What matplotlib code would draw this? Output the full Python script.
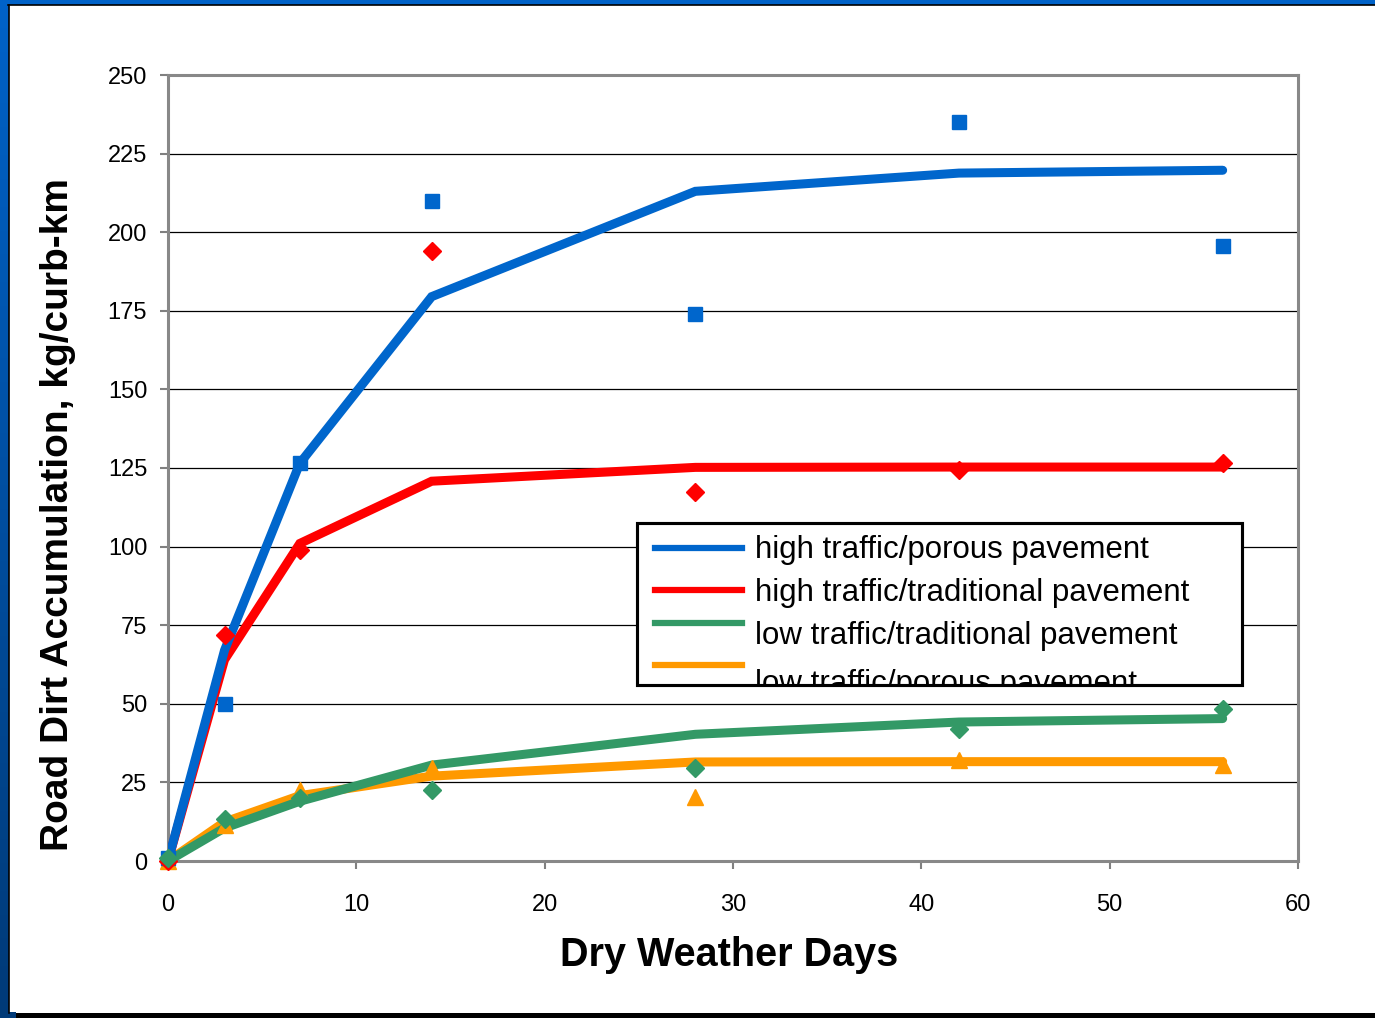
import numpy as np
import matplotlib
matplotlib.use("Agg")
import matplotlib.pyplot as plt
from matplotlib.patches import Rectangle
from matplotlib.lines import Line2D
from matplotlib.colors import LinearSegmentedColormap

plt.rcParams['font.family'] = ['Liberation Sans', 'DejaVu Sans']

# ---- data ----
days = [0, 3, 7, 14, 28, 42, 56]

series_names = ["high traffic/porous pavement",
                "high traffic/traditional pavement",
                "low traffic/traditional pavement",
                "low traffic/porous pavement"]

# observed points
hp_obs = [1, 50, 126.5, 210, 174, 235, 195.5]
ht_obs = [0, 72, 99, 194, 117.5, 124.5, 126.5]
lt_obs = [1, 13.5, 20, 22.5, 29.5, 42, 48.5]
lp_obs = [0, 11.5, 22.5, 29.5, 20.5, 32, 30.5]

# fitted curves
hp_fit = [0, 67, 126.5, 179.5, 213, 218.8, 219.7]
ht_fit = [0, 64, 101, 120.8, 125.2, 125.3, 125.3]
lt_fit = [0, 10.5, 19, 30.5, 40.3, 44.2, 45.3]
lp_fit = [0, 12.4, 20.8, 27, 31.5, 31.6, 31.6]

x_ticks = [0, 10, 20, 30, 40, 50, 60]
y_ticks = [0, 25, 50, 75, 100, 125, 150, 175, 200, 225, 250]

c_blue = "#0066CC"
c_red = "#FF0000"
c_green = "#339966"
c_orange = "#FF9900"

W, H = 1375, 1018
fig = plt.figure(figsize=(W / 100, H / 100), dpi=100)
fig.patch.set_facecolor("white")

# ---- frame decoration ----
frame = fig.add_axes([0, 0, 1, 1], zorder=-10)
frame.set_xlim(0, W)
frame.set_ylim(H, 0)
frame.axis("off")
grad = np.linspace(0, 1, 256).reshape(-1, 1)
cmap = LinearSegmentedColormap.from_list("bl", ["#0062C8", "#003A78"])
frame.imshow(grad, cmap=cmap, extent=[0, 8.5, H, 0], aspect="auto")
frame.add_patch(Rectangle((0, 0), W, 4.5, color="#0062C8", lw=0))
frame.plot([8.5, W], [5.2, 5.2], color="black", lw=1.2)
frame.plot([9.2, 9.2], [5, 1013], color="black", lw=1.2)
frame.add_patch(Rectangle((9, 1013), W, 6, color="black", lw=0))
frame.add_patch(Rectangle((0, 1012), 16, 7, color="#003A78", lw=0))

# ---- main axes ----
ax = fig.add_axes([168 / W, 1 - 861 / H, (1298 - 168) / W, (861 - 75) / H])
ax.set_xlim(0, 60)
ax.set_ylim(0, 250)
ax.set_xticks(x_ticks)
ax.set_yticks(y_ticks)
ax.tick_params(axis="x", direction="out", length=6, width=1.5, color="#808080",
               labelsize=17, pad=18)
ax.tick_params(axis="y", direction="out", length=6, width=1.5, color="#808080",
               labelsize=17, pad=9)
for s in ax.spines.values():
    s.set_color("#888888")
    s.set_linewidth(2.2)
ax.yaxis.grid(True, color="black", lw=0.9)
ax.set_axisbelow(True)

fits = [(lp_fit, c_orange), (lt_fit, c_green), (ht_fit, c_red), (hp_fit, c_blue)]
for vals, col in fits:
    ax.plot(days, vals, color=col, lw=6.5, solid_capstyle="round",
            solid_joinstyle="miter", zorder=3)

ax.plot(days, hp_obs, ls="none", marker="s", ms=9.5, color=c_blue, zorder=5, clip_on=False)
ax.plot(days, ht_obs, ls="none", marker="D", ms=9, color=c_red, zorder=5, clip_on=False)
ax.plot(days, lt_obs, ls="none", marker="D", ms=9, color=c_green, zorder=5, clip_on=False)
ax.plot(days, lp_obs, ls="none", marker="^", ms=11, color=c_orange, zorder=4, clip_on=False)

ax.set_xlabel("Dry Weather Days", fontsize=28.5, fontweight="bold")
ax.xaxis.set_label_coords((729 - 168) / 1130, (861 - 955) / 786)
ax.xaxis.label.set_va("center")
ax.set_ylabel("Road Dirt Accumulation, kg/curb-km", fontsize=28, fontweight="bold")
ax.yaxis.set_label_coords((58 - 168) / 1130, (861 - 515) / 786)
ax.yaxis.label.set_va("center")

# ---- manual legend (last entry clipped like the original) ----
lx0, ly0 = (637 - 168) / 1130, (861 - 685) / 786
lw_, lh_ = (1242 - 637) / 1130, (685 - 523) / 786
box = Rectangle((lx0, ly0), lw_, lh_, transform=ax.transAxes, facecolor="white",
                edgecolor="black", lw=2.2, zorder=10)
ax.add_patch(box)
clipbox = Rectangle((lx0, ly0), lw_, lh_, transform=ax.transAxes, facecolor="none",
                    edgecolor="none")
line_y = [548, 590, 623, 665]
text_y = [550, 593, 636, 684]
cols = [c_blue, c_red, c_green, c_orange]
for name, col, yl, yt in zip(series_names, cols, line_y, text_y):
    l = Line2D([(655 - 168) / 1130, (742 - 168) / 1130],
               [(861 - yl) / 786] * 2, transform=ax.transAxes, color=col,
               lw=4.5, zorder=11)
    ax.add_line(l)
    l.set_clip_on(True)
    l.set_clip_path(clipbox)
    t = ax.text((755 - 168) / 1130, (861 - yt) / 786, name, transform=ax.transAxes,
                fontsize=22.5, va="center", ha="left", zorder=12)
    t.set_clip_on(True)
    t.set_clip_path(clipbox)
# redraw box edge on top of clipped text
ax.add_patch(Rectangle((lx0, ly0), lw_, lh_, transform=ax.transAxes,
                       facecolor="none", edgecolor="black", lw=2.2, zorder=13))

fig.savefig("out.png", dpi=100)
